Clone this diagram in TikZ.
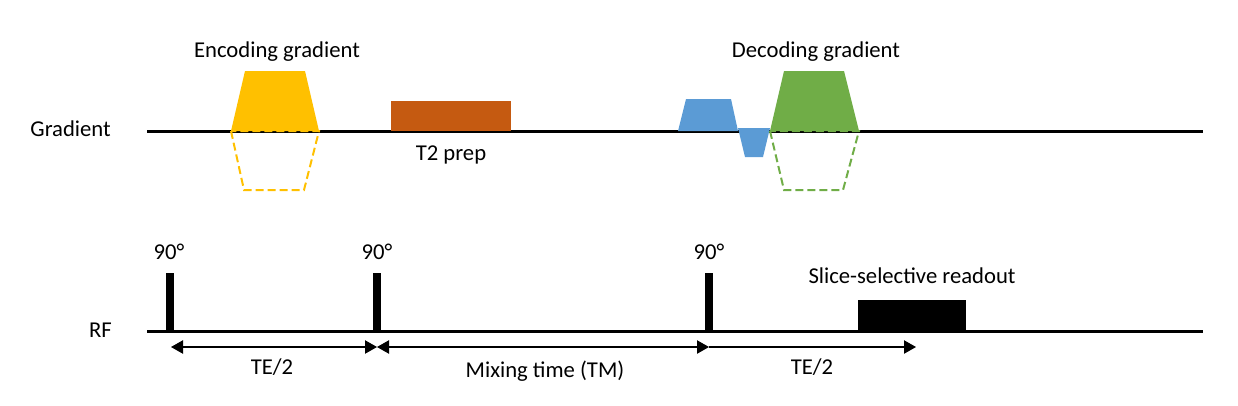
\documentclass[tikz,border=0pt]{standalone}
\usepackage{fontspec}
\setmainfont{Carlito}
\usetikzlibrary{arrows.meta}
\definecolor{cyellow}{HTML}{FFC000}
\definecolor{corange}{HTML}{C55A11}
\definecolor{cblue}{HTML}{5B9BD5}
\definecolor{cgreen}{HTML}{70AD47}
\tikzset{
  axis/.style={line width=2.25pt},
  lbl/.style={inner sep=0pt, anchor=base, font=\fontsize{17}{20}\selectfont},
  dim/.style={line width=0.8pt, {Triangle[length=9pt,width=10pt]}-{Triangle[length=9pt,width=10pt]}},
  dimr/.style={line width=0.8pt, -{Triangle[length=9pt,width=10pt]}},
  ghost/.style={line width=1.5pt, dash pattern=on 6pt off 3pt},
  pulse/.style={fill=black, draw=none}
}
\begin{document}
\begin{tikzpicture}[x=0.75pt,y=-0.75pt]
\useasboundingbox (0,0) rectangle (1238,405);
% axes
\coordinate (gs) at (147,131);
\coordinate (ge) at (1203,131);
\coordinate (rs) at (147,331);
\coordinate (re) at (1203,331);
\draw[axis] (gs) -- (ge);
\draw[axis] (rs) -- (re);
\node[lbl, anchor=base east] (glab) at (111,136) {Gradient};
\node[lbl, anchor=base east] (rflab) at (112,337) {RF};

% encoding gradient
\fill[cyellow] (231,131) -- (245,71) -- (305,71) -- (319,131) -- cycle;
\draw[cyellow, ghost] (231,131) -- (244,190) -- (304,190) -- (319,131) -- cycle;
\node[lbl] (enc) at (277,57) {Encoding gradient};

% T2 prep
\fill[corange] (391,101) rectangle (511,131);
\node[lbl] (t2) at (451,160) {T2 prep};

% blue lobes
\fill[cblue] (678,131) -- (686,99) -- (731,99) -- (738,131) -- cycle;
\fill[cblue] (738,128) -- (770,128) -- (763,157) -- (745,157) -- cycle;

% decoding gradient
\fill[cgreen] (770,131) -- (784,71) -- (844,71) -- (859,131) -- cycle;
\draw[cgreen, ghost] (770,131) -- (784,190) -- (843,190) -- (859,131) -- cycle;
\node[lbl] (dec) at (816,57) {Decoding gradient};

% RF pulses
\fill[pulse] (166,273) rectangle (174,331);
\fill[pulse] (373,273) rectangle (381,331);
\fill[pulse] (705,273) rectangle (713,331);
\node[lbl] (p1) at (169,259) {90°};
\node[lbl] (p2) at (377,259) {90°};
\node[lbl] (p3) at (709,259) {90°};

% readout
\fill[pulse] (858,300) rectangle (966,331);
\node[lbl] (ro) at (912,283) {Slice-selective readout};

% timing arrows
\coordinate (a1) at (171,347);
\coordinate (a2) at (377,347);
\coordinate (a3) at (709,347);
\coordinate (a4) at (916,347);
\draw[dim] (a1) -- (a2);
\draw[dim] (a2) -- (a3);
\draw[dimr] (a3) -- (a4);
\node[lbl] (te1) at (272,374) {TE/2};
\node[lbl] (tm) at (545,377) {Mixing time (TM)};
\node[lbl] (te2) at (812,374) {TE/2};
\end{tikzpicture}
\end{document}
